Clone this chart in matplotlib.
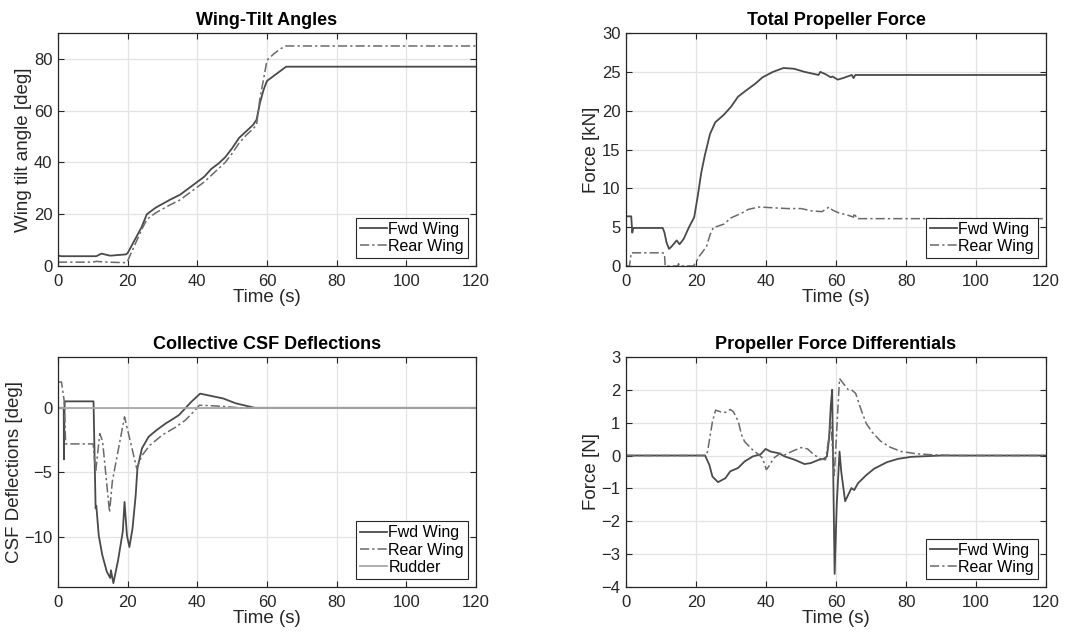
import matplotlib
matplotlib.use("Agg")
import matplotlib.pyplot as plt
import numpy as np

plt.rcParams["font.family"] = ["Liberation Sans", "DejaVu Sans"]

# --- Wing-Tilt Angles [deg] ---
tilt_fwd_t = [0, 1, 11, 12.5, 14, 15, 19.5, 20, 22, 24, 25.5, 28, 30, 32, 35, 38, 40, 42,
              44, 46, 48, 50, 52, 54, 56, 57, 58, 59, 60, 62, 64, 65.5, 120]
tilt_fwd = [4, 3.8, 3.8, 4.8, 4.3, 4, 4.5, 5, 10, 15, 20, 22.5, 24, 25.5, 27.5, 30.5, 32.5,
            34.5, 37.5, 39.5, 42, 45.5, 49.5, 52, 54.5, 56.5, 63, 68, 71.5, 73.5, 75.5, 77, 77]
tilt_rear_t = [0, 10, 11, 14, 19.5, 20, 22, 24, 25.5, 28, 30, 32, 35, 38, 40, 42, 44, 46,
               48, 50, 52, 54, 56, 57, 58, 59, 60, 62, 64, 65.5, 120]
tilt_rear = [1.5, 1.5, 1.8, 1.5, 1.3, 2, 8, 14, 18, 20.5, 22, 23.5, 25.5, 28.5, 30.5, 32.5,
             35, 37.5, 40, 43.5, 47.5, 50.5, 53, 54.5, 65, 72, 79.5, 82, 84, 85, 85]

# --- Total Propeller Force [kN] ---
force_fwd_t = [0, 1.5, 1.8, 2.1, 10.5, 11, 11.6, 12.3, 13, 14.5, 15.3, 16.5, 18, 19.5, 20.5,
               21.5, 22.5, 24, 25.5, 28, 30, 32, 34, 37, 39, 42, 45, 48, 51, 53, 55, 55.5,
               57, 58.5, 59, 60.5, 62, 64.5, 65, 65.5, 120]
force_fwd = [6.4, 6.4, 4.3, 4.9, 4.9, 4.3, 3.0, 2.2, 2.5, 3.3, 2.8, 3.5, 5.0, 6.3, 9.0,
             12.0, 14.2, 17.0, 18.5, 19.5, 20.5, 21.8, 22.5, 23.5, 24.3, 25.0, 25.5, 25.4,
             25.0, 24.8, 24.6, 25.0, 24.7, 24.3, 24.4, 24.0, 24.2, 24.6, 24.2, 24.6, 24.6]
force_rear_t = [0, 1.0, 1.5, 10.5, 11, 11.2, 14.8, 15, 15.3, 19.3, 20, 21, 23, 24, 25, 26,
                28, 30, 32, 33, 35, 38, 42, 46, 50, 53, 56, 58, 59, 61, 63, 65, 65.2, 66, 120]
force_rear = [0, 0, 1.7, 1.7, 1.6, 0, 0, 0.3, 0, 0, 0.5, 1.3, 2.5, 4.0, 5.0, 5.1, 5.4, 6.2,
              6.6, 6.8, 7.3, 7.6, 7.5, 7.4, 7.4, 7.1, 7.0, 7.6, 7.2, 6.8, 6.6, 6.3, 6.8,
              6.1, 6.1]

# --- Collective CSF Deflections [deg] ---
csf_fwd_t = [0, 1.65, 1.7, 1.9, 2.1, 10.2, 10.5, 10.8, 11.0, 11.7, 12.7, 14, 15, 15.2, 15.9,
             17.2, 18.6, 19.1, 19.8, 20.5, 21.4, 22.3, 22.8, 24.1, 26, 28.3, 31, 32.8,
             34.7, 36.5, 38.3, 40.8, 47.5, 51, 56.5, 120]
csf_fwd = [0, 0, -4.0, 0.5, 0.5, 0.5, -3.7, -7.8, -7.6, -9.9, -11.4, -12.7, -13.2, -12.6,
           -13.6, -11.9, -9.6, -7.3, -9.9, -10.8, -9.35, -6.8, -4.7, -3.15, -2.25, -1.73,
           -1.2, -0.9, -0.57, -0.05, 0.47, 1.1, 0.72, 0.35, 0, 0]
csf_rear_t = [0, 1.0, 1.8, 2.2, 10.1, 10.8, 12.0, 12.8, 14.8, 15.6, 19.1, 22.6, 24.1, 26.4,
              30, 33.8, 36.6, 39.3, 40.6, 44.8, 48, 52, 120]
csf_rear = [2.0, 2.0, 0.5, -2.8, -2.8, -5.0, -2.0, -2.6, -8.1, -5.7, -0.7, -4.7, -3.7,
            -2.9, -2.1, -1.5, -0.95, -0.2, 0.2, 0.15, 0.1, 0, 0]
csf_rudder_t = [0, 120]
csf_rudder = [0, 0]

# --- Propeller Force Differentials [N] ---
diff_fwd_t = [0, 22.6, 23.8, 24.7, 26.3, 28.4, 29.8, 32, 33.9, 36.2, 38.5, 39.9, 41.3, 43.6,
              45.4, 48.2, 51, 52.8, 55.1, 56.5, 57.4, 58.0, 58.5, 58.9, 59.2, 59.6, 60.2,
              61.0, 61.5, 62.6, 64.4, 65.2, 66.3, 68.6, 70.9, 74.6, 77.8, 81.5, 90, 120]
diff_fwd = [0, 0, -0.28, -0.64, -0.81, -0.69, -0.48, -0.38, -0.18, -0.03, 0.04, 0.2, 0.12,
            0.07, -0.03, -0.13, -0.26, -0.23, -0.13, -0.1, -0.03, 0.5, 1.5, 2.0, -0.5, -3.6,
            -1.5, 0.12, -0.5, -1.39, -0.99, -1.05, -0.84, -0.6, -0.4, -0.2, -0.1, -0.04,
            0, 0]
diff_rear_t = [0, 22.8, 23.3, 24.7, 25.6, 27, 28.4, 29.8, 30.7, 32.1, 33, 33.9, 36.2, 38,
               39, 40.1, 40.8, 42.2, 44.1, 45.4, 47.3, 50, 51.9, 53.7, 55.6, 57, 57.9, 58.5,
               59.5, 61, 63.5, 64.4, 65.6, 67.2, 68.6, 70.4, 72.7, 75.5, 78.7, 83.3, 87.9,
               95, 120]
diff_rear = [0, 0, 0.12, 1.03, 1.38, 1.33, 1.31, 1.4, 1.33, 1.03, 0.63, 0.42, 0.17, 0.02,
             -0.08, -0.43, -0.33, -0.08, 0.07, 0.02, 0.12, 0.24, 0.2, 0.02, -0.1, -0.13,
             0.5, 1.0, -0.6, 2.34, 2.0, 2.0, 1.89, 1.38, 0.98, 0.7, 0.44, 0.25, 0.12, 0.05,
             0.02, 0, 0]

FWD = dict(color="#4a4a4a", lw=1.3, ls="-", label="Fwd Wing")
REAR = dict(color="#6a6a6a", lw=1.1, ls=(0, (6, 2, 1.5, 2)), label="Rear Wing")
RUD = dict(color="#a8a8a8", lw=1.3, ls="-", label="Rudder")


def style(ax, title, ylabel, ylim, yticks):
    ax.set_xlim(0, 120)
    ax.set_ylim(*ylim)
    ax.set_xticks(range(0, 121, 20))
    ax.set_yticks(yticks)
    ax.grid(True, color="#e3e3e3", lw=0.9)
    ax.set_axisbelow(True)
    ax.tick_params(direction="in", top=True, right=True, length=4, labelsize=12,
                   colors="#262626", width=0.8)
    ax.tick_params(axis="x", pad=6)
    ax.tick_params(axis="y", pad=4)
    for s in ax.spines.values():
        s.set_color("#262626")
        s.set_linewidth(0.9)
    ax.set_title(title, fontsize=13, fontweight="bold", pad=6)
    ax.set_xlabel("Time (s)", fontsize=13.5, labelpad=0, color="#262626")
    ax.set_ylabel(ylabel, fontsize=13.5, labelpad=1, color="#262626")
    leg = ax.legend(loc="lower right", fontsize=11.5, fancybox=False, framealpha=1,
                    edgecolor="#262626", borderpad=0.25, labelspacing=0.15,
                    handlelength=1.7, handletextpad=0.1, borderaxespad=0.5)
    leg.get_frame().set_linewidth(0.8)


fig = plt.figure(figsize=(10.8, 6.34), dpi=100)
ax1 = fig.add_axes([0.0537, 0.5804, 0.387, 0.3675])
ax2 = fig.add_axes([0.5796, 0.5804, 0.389, 0.3675])
ax3 = fig.add_axes([0.0537, 0.0741, 0.387, 0.363])
ax4 = fig.add_axes([0.5796, 0.0741, 0.389, 0.363])

ax1.plot(tilt_fwd_t, tilt_fwd, **FWD)
ax1.plot(tilt_rear_t, tilt_rear, **REAR)
style(ax1, "Wing-Tilt Angles", "Wing tilt angle [deg]", (0, 90), [0, 20, 40, 60, 80])

ax2.plot(force_fwd_t, force_fwd, **FWD)
ax2.plot(force_rear_t, force_rear, **REAR)
style(ax2, "Total Propeller Force", "Force [kN]", (0, 30), range(0, 31, 5))

ax3.plot(csf_fwd_t, csf_fwd, **FWD)
ax3.plot(csf_rear_t, csf_rear, **REAR)
ax3.plot(csf_rudder_t, csf_rudder, **RUD)
style(ax3, "Collective CSF Deflections", "CSF Deflections [deg]", (-13.9, 3.95), [-10, -5, 0])

ax4.plot(diff_fwd_t, diff_fwd, **FWD)
ax4.plot(diff_rear_t, diff_rear, **REAR)
style(ax4, "Propeller Force Differentials", "Force [N]", (-4, 3), range(-4, 4))

fig.savefig("out.png", dpi=100)
